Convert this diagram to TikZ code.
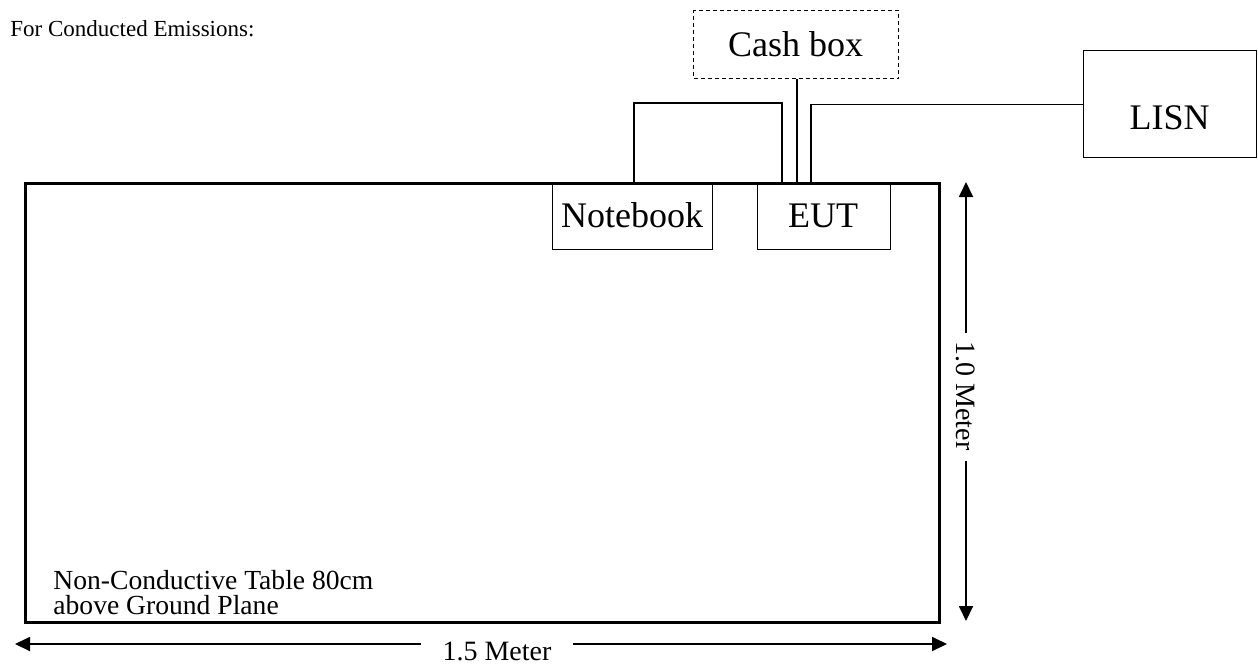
\documentclass[tikz,border=0pt]{standalone}
\usepackage{fontspec}
\setmainfont{Liberation Serif}
\usetikzlibrary{arrows.meta,calc}
\begin{document}
\begin{tikzpicture}[x=0.5pt,y=-0.5pt,
  box/.style={draw, line width=0.65pt, inner sep=0pt, anchor=north west},
  dashedbox/.style={box, dash pattern=on 2pt off 1.5pt},
  tablebox/.style={draw, line width=1.6pt, inner sep=0pt, anchor=north west},
  biglbl/.style={inner sep=0pt, anchor=base, font=\fontsize{18pt}{21pt}\selectfont},
  midlbl/.style={inner sep=0pt, font=\fontsize{14pt}{16pt}\selectfont},
  wire/.style={line width=0.65pt},
  dimarrow/.style={line width=0.9pt, -{Triangle[length=7.5pt,width=7pt]}}]
\useasboundingbox (0,0) rectangle (1258,665);

% header
\node[inner sep=0pt, anchor=base west, font=\fontsize{11.5pt}{13pt}\selectfont] (hdr) at (10,36) {For Conducted Emissions:};

% table
\node[tablebox, minimum width=457pt, minimum height=219.5pt] (table) at (24,182) {};
\node[inner sep=0pt, anchor=south west, align=left, font=\fontsize{13.8pt}{12.6pt}\selectfont] (tt) at (53,615) {Non-Conductive Table 80cm\\above Ground Plane};

% boxes
\node[box, minimum width=80pt, minimum height=33.5pt] (nb) at (552,182) {};
\node[biglbl] (nbt) at (632,227) {Notebook};
\node[box, minimum width=66.5pt, minimum height=33.5pt] (eut) at (757,182) {};
\node[biglbl] (eutt) at (823,227) {EUT};
\node[dashedbox, minimum width=102.5pt, minimum height=34pt] (cash) at (693,10) {};
\node[biglbl] (casht) at (795.5,56) {Cash box};
\node[box, minimum width=86.5pt, minimum height=53.5pt] (lisn) at (1083,50) {};
\node[biglbl] (lisnt) at (1169.5,129) {LISN};

% wires
\coordinate (nbw) at (634,182);
\coordinate (eutw1) at (782,182);
\coordinate (eutw2) at (797,182);
\coordinate (eutw3) at (811,182);
\draw[wire] (nbw) -- (634,103) -- (782,103) -- (eutw1);
\draw[wire] (cash.south -| eutw2) -- (eutw2);
\draw[wire] (eutw3) |- (lisn.west);

% dimension: vertical
\coordinate (vt) at (966,182);
\coordinate (vb) at (966,621);
\node[midlbl, rotate=-90] (vlab) at (966,396) {1.0 Meter};
\draw[dimarrow] ([yshift=4pt]vlab.west) -- (vt);
\draw[dimarrow] ([yshift=-5pt]vlab.east) -- (vb);

% dimension: horizontal
\coordinate (hl) at (15,644);
\coordinate (hr) at (947,644);
\node[midlbl, anchor=base] (hlab) at (497,660) {1.5 Meter};
\draw[dimarrow] ([xshift=-10.5pt]hlab.west |- hl) -- (hl);
\draw[dimarrow] ([xshift=10.5pt]hlab.east |- hr) -- (hr);
\end{tikzpicture}
\end{document}
